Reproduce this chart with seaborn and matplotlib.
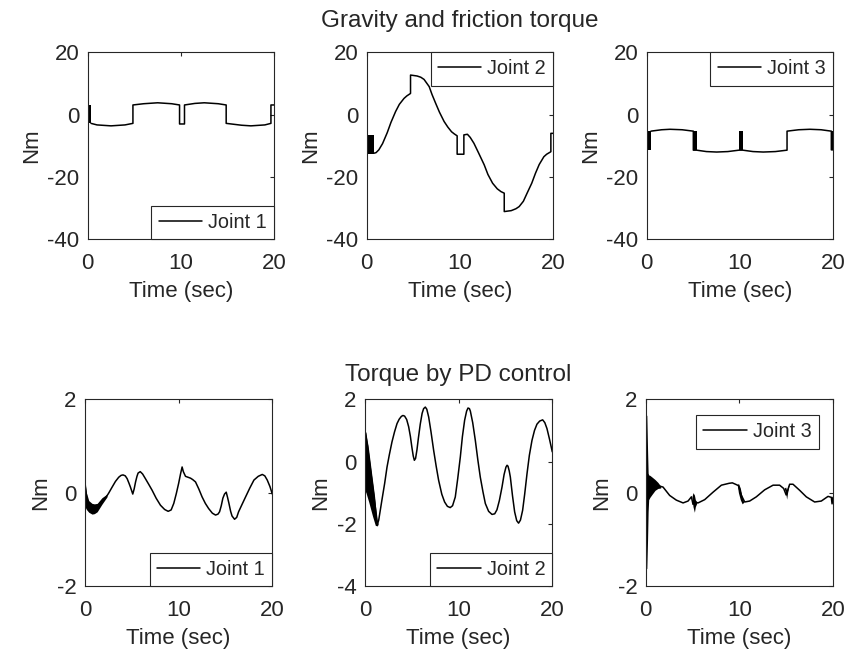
import numpy as np
import pandas as pd
import matplotlib
matplotlib.use("Agg")
import matplotlib.pyplot as plt
import seaborn as sns

# ---------------- data ----------------
time_ticks = [0, 10, 20]
top_yticks = [-40, -20, 0, 20]
titles = ["Gravity and friction torque", "Torque by PD control"]
joint_labels = ["Joint 1", "Joint 2", "Joint 3"]

# Gravity and friction torque, joint 1
g1_t = [0.35, 1.0, 2.5, 4.0, 4.85, 4.85, 6.0, 7.5, 9.0, 9.85, 9.85, 10.38, 10.38,
        11.5, 12.5, 14.0, 14.85, 14.85, 16.5, 17.5, 19.0, 19.65, 19.65, 20.0]
g1_v = [-2.8, -3.3, -3.6, -3.3, -2.8, 3.1, 3.5, 3.8, 3.5, 3.1, -3.0, -3.0, 3.1,
        3.6, 3.8, 3.5, 3.1, -2.8, -3.4, -3.6, -3.3, -2.8, 3.1, 3.1]
g1_blocks = [(0.0, 0.35, -2.8, 3.1)]

# Gravity and friction torque, joint 2
g2_t = [0.75, 1.0, 1.3, 1.7, 2.2, 2.6, 3.1, 3.5, 4.0, 4.3, 4.7, 4.7, 5.4, 5.8, 6.15,
        6.7, 7.0, 7.4, 7.8, 8.3, 8.7, 9.1, 9.4, 9.7, 9.7, 10.42, 10.42, 10.8, 11.1,
        11.5, 12.0, 12.6, 13.0, 13.5, 14.0, 14.4, 14.75, 14.75, 15.0, 15.5, 16.0,
        16.35, 16.8, 17.2, 17.7, 18.1, 18.5, 19.0, 19.3, 19.75, 19.75, 20.0]
g2_v = [-12.4, -12.2, -11.3, -9.3, -5.8, -2.5, 1.0, 3.3, 5.2, 6.0, 6.8, 12.7, 12.4,
        12.0, 11.3, 9.0, 6.5, 3.6, 0.8, -2.2, -4.0, -5.5, -6.2, -6.8, -12.7, -12.7,
        -6.5, -6.3, -7.3, -9.2, -12.3, -16.1, -19.2, -22.0, -23.8, -24.7, -25.2,
        -31.1, -31.0, -30.8, -30.2, -29.5, -27.8, -25.2, -22.0, -18.8, -16.0,
        -13.5, -12.7, -11.9, -6.0, -6.0]
g2_blocks = [(0.0, 0.78, -12.5, -6.5)]

# Gravity and friction torque, joint 3
g3_t = [0.45, 1.6, 2.5, 3.8, 5.0, 5.0, 5.35, 6.4, 7.5, 8.7, 9.9, 10.3, 11.4, 12.5,
        13.8, 15.05, 15.05, 16.3, 17.5, 18.7, 19.8, 19.8, 20.0]
g3_v = [-5.3, -4.85, -4.7, -4.85, -5.3, -11.4, -11.4, -11.85, -12.0, -11.85,
        -11.4, -11.4, -11.85, -12.0, -11.85, -11.4, -5.3, -4.85, -4.7, -4.85,
        -5.3, -11.3, -11.3]
g3_blocks = [(0.0, 0.48, -11.4, -5.4), (5.0, 5.38, -11.4, -5.3),
             (9.88, 10.32, -11.4, -5.4), (19.8, 20.0, -11.3, -5.3)]

# Torque by PD control, joint 1
p1_t = [0, 0.2, 0.5, 0.9, 1.3, 1.8, 2.17, 2.5, 2.9, 3.25, 3.6, 3.85, 4.06, 4.3, 4.5,
        4.7, 4.85, 5.0, 5.1, 5.25, 5.4, 5.55, 5.67, 5.9, 6.15, 6.45, 6.8, 7.17, 7.6,
        8.06, 8.5, 8.88, 9.2, 9.48, 9.75, 10.0, 10.2, 10.37, 10.5, 10.73, 11.0,
        11.27, 11.5, 11.8, 12.15, 12.5, 12.85, 13.2, 13.6, 13.94, 14.2, 14.37, 14.55,
        14.72, 14.9, 15.08, 15.22, 15.37, 15.55, 15.7, 15.97, 16.2, 16.4, 16.75,
        17.15, 17.6, 18.04, 18.5, 18.93, 19.2, 19.46, 19.75, 20.0]
p1_v = [0.21, -0.15, -0.3, -0.36, -0.32, -0.18, -0.12, -0.02, 0.12, 0.24, 0.33, 0.37,
        0.38, 0.36, 0.30, 0.2, 0.12, 0.03, -0.03, 0.08, 0.23, 0.35, 0.42, 0.45, 0.40,
        0.30, 0.18, 0.05, -0.12, -0.27, -0.36, -0.40, -0.37, -0.23, -0.02, 0.20,
        0.40, 0.55, 0.45, 0.35, 0.33, 0.31, 0.28, 0.23, 0.08, -0.09, -0.23, -0.34,
        -0.44, -0.48, -0.46, -0.41, -0.28, -0.12, -0.03, 0.01, -0.1, -0.23, -0.4,
        -0.5, -0.57, -0.53, -0.41, -0.26, -0.09, 0.1, 0.27, 0.35, 0.39, 0.36, 0.27,
        0.13, -0.03]
p1_band_t = [0, 0.15, 0.4, 0.75, 1.0, 1.3, 1.8, 2.35]
p1_band_hi = [0.21, 0.0, -0.17, -0.23, -0.24, -0.23, -0.11, -0.03]
p1_band_lo = [-0.3, -0.36, -0.42, -0.46, -0.45, -0.41, -0.25, -0.09]

# Torque by PD control, joint 2
p2_t = [0, 0.3, 0.7, 1.0, 1.28, 1.46, 1.8, 2.1, 2.35, 2.6, 2.88, 3.15, 3.42, 3.65,
        3.88, 4.05, 4.23, 4.45, 4.66, 4.85, 5.0, 5.15, 5.27, 5.4, 5.55, 5.7, 5.9,
        6.1, 6.26, 6.44, 6.6, 6.8, 7.05, 7.33, 7.6, 7.86, 8.2, 8.5, 8.8, 9.1, 9.35,
        9.64, 9.9, 10.18, 10.4, 10.64, 10.85, 11.0, 11.15, 11.25, 11.5, 11.78,
        12.05, 12.31, 12.6, 12.85, 13.2, 13.56, 13.85, 14.09, 14.35, 14.63, 14.85,
        15.05, 15.17, 15.27, 15.4, 15.52, 15.75, 15.98, 16.2, 16.4, 16.6, 16.83,
        17.05, 17.3, 17.55, 17.83, 18.1, 18.36, 18.65, 18.97, 19.2, 19.43, 19.7,
        20.0]
p2_v = [0.95, 0.5, -0.45, -1.15, -2.05, -1.89, -1.25, -0.7, -0.18, 0.22, 0.63, 0.95,
        1.22, 1.36, 1.45, 1.48, 1.46, 1.35, 1.12, 0.8, 0.47, 0.18, 0.04, 0.1, 0.38,
        0.75, 1.2, 1.55, 1.70, 1.75, 1.68, 1.43, 0.95, 0.36, -0.15, -0.6, -1.05,
        -1.3, -1.44, -1.48, -1.42, -1.14, -0.55, 0.15, 0.8, 1.33, 1.62, 1.72, 1.7,
        1.62, 1.25, 0.68, 0.05, -0.5, -0.98, -1.35, -1.6, -1.7, -1.68, -1.55, -1.25,
        -0.82, -0.42, -0.18, -0.12, -0.15, -0.3, -0.5, -1.1, -1.62, -1.9, -1.98,
        -1.88, -1.57, -1.05, -0.39, 0.2, 0.68, 1.0, 1.2, 1.3, 1.34, 1.25, 1.06,
        0.72, 0.31]
p2_band_t = [0, 0.1, 0.4, 0.8, 1.1, 1.3, 1.4]
p2_band_hi = [0.95, 0.95, 0.25, -0.68, -1.38, -1.85, -2.0]
p2_band_lo = [-0.93, -1.0, -1.3, -1.75, -2.05, -2.07, -2.02]

# Torque by PD control, joint 3
p3_t = [0, 0.1, 0.2, 0.5, 0.9, 1.3, 1.85, 2.56, 3.27, 3.99, 4.52, 4.88, 5.05, 5.25,
        5.59, 6.3, 7.19, 8.08, 8.9, 9.25, 9.7, 9.9, 10.2, 10.57, 11.1, 11.81, 12.7,
        13.6, 14.3, 14.73, 15.0, 15.37, 15.73, 16.44, 17.15, 18.04, 18.75, 19.47,
        19.82, 19.9, 20.0]
p3_v = [0.0, 0.4, 0.2, 0.15, 0.17, 0.15, 0.12, -0.06, -0.16, -0.22, -0.18, -0.09,
        -0.25, -0.2, -0.22, -0.15, 0.01, 0.16, 0.2, 0.21, 0.17, 0.15, -0.05, -0.2,
        -0.18, -0.09, 0.06, 0.16, 0.16, 0.09, -0.05, 0.18, 0.18, 0.05, -0.09, -0.2,
        -0.18, -0.08, -0.1, -0.24, -0.1]
p3_bands = [
    ([0.0, 0.12, 0.2, 0.26, 0.32, 0.45, 0.7, 1.0, 1.3, 1.6],
     [-1.66, -1.62, -1.0, -0.4, -0.15, -0.1, -0.03, 0.05, 0.09, 0.1],
     [1.7, 1.65, 0.9, 0.42, 0.38, 0.37, 0.33, 0.28, 0.22, 0.14]),
    ([4.95, 5.05, 5.2, 5.3, 5.45],
     [-0.12, -0.3, -0.42, -0.3, -0.23],
     [-0.08, 0.0, -0.05, -0.15, -0.2]),
    ([9.8, 9.9, 10.1, 10.3, 10.45],
     [0.14, 0.0, -0.15, -0.24, -0.21],
     [0.17, 0.2, 0.1, -0.1, -0.19]),
    ([14.8, 14.95, 15.05, 15.15, 15.3],
     [0.08, 0.0, -0.14, 0.0, 0.16],
     [0.1, 0.12, 0.05, 0.12, 0.18]),
]

# ---------------- style ----------------
sns.set_theme(style="white")
plt.rcParams["font.family"] = ["Liberation Sans", "DejaVu Sans"]
plt.rcParams["axes.unicode_minus"] = False
TXT = "#262626"
plt.rcParams.update({
    "text.color": TXT, "axes.labelcolor": TXT,
    "xtick.color": TXT, "ytick.color": TXT,
    "axes.edgecolor": TXT, "axes.linewidth": 0.8,
})

fig = plt.figure(figsize=(8.64, 6.64), dpi=100)
W, H = 864.0, 664.0


def make_ax(left, top, width, height):
    return fig.add_axes([left / W, 1 - (top + height) / H, width / W, height / H])


top_lefts = [87.7, 366.7, 646.7]
bot_lefts = [85.0, 365.0, 645.7]
axes_top = [make_ax(l, 52.3, 186.5, 187.0) for l in top_lefts]
axes_bot = [make_ax(l, 399.3, 187.3, 186.7) for l in bot_lefts]

LW = 1.1


def style_ax(ax, ylim, yticks):
    ax.set_xlim(0, 20)
    ax.set_ylim(*ylim)
    ax.set_xticks(time_ticks)
    ax.set_yticks(yticks)
    ax.tick_params(direction="in", length=3, width=0.8, top=True, right=True,
                   labelsize=16)
    ax.tick_params(axis="x", pad=10)
    ax.tick_params(axis="y", pad=6)
    ax.set_xlabel("Time (sec)", fontsize=16, labelpad=5)
    ax.set_ylabel("Nm", fontsize=16, labelpad=4)
    for s in ax.spines.values():
        s.set_visible(True)
        s.set_color(TXT)
        s.set_linewidth(0.8)


def add_legend(ax, label, loc, anchor):
    line = ax.get_lines()[0]
    leg = ax.legend([line], [label], loc=loc, bbox_to_anchor=anchor,
                    borderaxespad=0, fontsize=14.3, frameon=True, fancybox=False,
                    framealpha=1, borderpad=0.36, handlelength=2.2,
                    handletextpad=0.3)
    leg.get_frame().set_edgecolor(TXT)
    leg.get_frame().set_linewidth(0.8)


def draw(ax, t, v):
    df = pd.DataFrame({"t": t, "v": v})
    sns.lineplot(data=df, x="t", y="v", ax=ax, color="black", linewidth=LW,
                 estimator=None, sort=False, legend=False)


def blocks(ax, blist):
    for (a, b, lo, hi) in blist:
        ax.fill_between([a, b], [lo, lo], [hi, hi], color="black", lw=0)


# top row
draw(axes_top[0], g1_t, g1_v)
blocks(axes_top[0], g1_blocks)
draw(axes_top[1], g2_t, g2_v)
blocks(axes_top[1], g2_blocks)
draw(axes_top[2], g3_t, g3_v)
blocks(axes_top[2], g3_blocks)

for ax in axes_top:
    style_ax(ax, (-40, 20), top_yticks)

add_legend(axes_top[0], joint_labels[0], "lower right", (1, 0))
add_legend(axes_top[1], joint_labels[1], "upper right", (1, 1))
add_legend(axes_top[2], joint_labels[2], "upper right", (1, 1))

# bottom row
draw(axes_bot[0], p1_t, p1_v)
axes_bot[0].fill_between(p1_band_t, p1_band_lo, p1_band_hi, color="black", lw=0)
draw(axes_bot[1], p2_t, p2_v)
axes_bot[1].fill_between(p2_band_t, p2_band_lo, p2_band_hi, color="black", lw=0)
draw(axes_bot[2], p3_t, p3_v)
for bt, blo, bhi in p3_bands:
    axes_bot[2].fill_between(bt, blo, bhi, color="black", lw=0)

style_ax(axes_bot[0], (-2, 2), [-2, 0, 2])
style_ax(axes_bot[1], (-4, 2), [-4, -2, 0, 2])
style_ax(axes_bot[2], (-2, 2), [-2, 0, 2])

add_legend(axes_bot[0], joint_labels[0], "lower right", (1, 0))
add_legend(axes_bot[1], joint_labels[1], "lower right", (1, 0))
add_legend(axes_bot[2], joint_labels[2], "upper right",
           (1 - 14 / 187.3, 1 - 16 / 186.7))

axes_top[1].set_title(titles[0], fontsize=17.5, pad=18)
axes_bot[1].set_title(titles[1], fontsize=17.5, pad=13)

fig.savefig("out.png", dpi=100, facecolor="white")
